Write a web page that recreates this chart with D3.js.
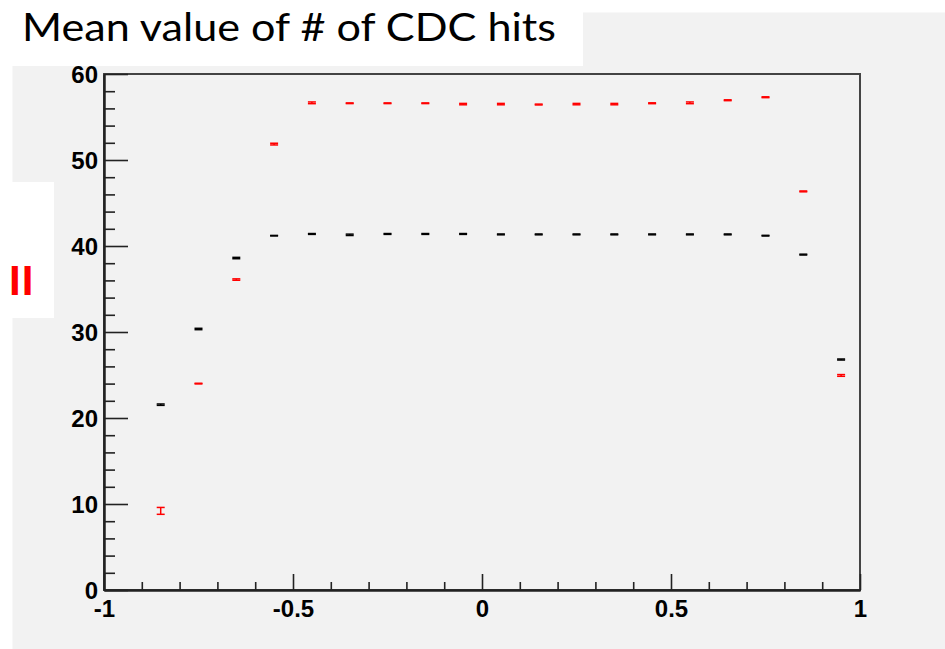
<!DOCTYPE html>
<html>
<head>
<meta charset="utf-8">
<script src="https://cdn.jsdelivr.net/npm/d3@7"></script>
<style>
  body { margin: 0; background: #fff; }
  svg { display: block; }
</style>
</head>
<body>
<svg id="chart" width="945" height="649"></svg>
<script>
// bin centres (cos theta), 0.1 wide bins; first bin (-0.95) is empty
const binCenters = [-0.85, -0.75, -0.65, -0.55, -0.45, -0.35, -0.25, -0.15, -0.05,
  0.05, 0.15, 0.25, 0.35, 0.45, 0.55, 0.65, 0.75, 0.85, 0.95];

// black series: mean hits and error
const blackMean = [21.55, 30.35, 38.6, 41.2, 41.4, 41.3, 41.4, 41.4, 41.4,
  41.35, 41.35, 41.35, 41.35, 41.35, 41.35, 41.35, 41.2, 39.0, 26.8];
const blackErr = [0.08, 0.08, 0.08, 0.03, 0.05, 0.08, 0.05, 0.05, 0.05,
  0.05, 0.05, 0.05, 0.05, 0.05, 0.05, 0.05, 0.04, 0.05, 0.06];

// red series
const redMean = [9.2, 24.0, 36.1, 51.85, 56.65, 56.6, 56.6, 56.6, 56.5,
  56.5, 56.45, 56.5, 56.5, 56.6, 56.65, 56.95, 57.3, 46.35, 24.95];
const redErr = [0.4, 0.04, 0.08, 0.1, 0.1, 0.04, 0.04, 0.04, 0.08,
  0.08, 0.05, 0.08, 0.08, 0.05, 0.1, 0.05, 0.05, 0.05, 0.1];

const xMajor = [-1, -0.5, 0, 0.5, 1];
const xMinor = [-0.9, -0.8, -0.7, -0.6, -0.4, -0.3, -0.2, -0.1, 0.1, 0.2, 0.3, 0.4, 0.6, 0.7, 0.8, 0.9];
const yMajor = [0, 10, 20, 30, 40, 50, 60];
const yMinor = [2, 4, 6, 8, 12, 14, 16, 18, 22, 24, 26, 28, 32, 34, 36, 38, 42, 44, 46, 48, 52, 54, 56, 58];

const svg = d3.select("#chart");

// page pieces: grey canvas, white title box, white side label box
svg.append("rect").attr("x", 12.5).attr("y", 12.5).attr("width", 945).attr("height", 649).attr("fill", "#f2f2f2");
svg.append("rect").attr("x", 0).attr("y", 0).attr("width", 583).attr("height", 66).attr("fill", "#fff");
svg.append("rect").attr("x", 0).attr("y", 182).attr("width", 54).attr("height", 136).attr("fill", "#fff");

svg.append("text")
  .attr("x", 22).attr("y", 41)
  .attr("font-family", "Lato, 'Open Sans', sans-serif")
  .attr("font-size", 39)
  .attr("textLength", 534)
  .attr("lengthAdjust", "spacingAndGlyphs")
  .attr("fill", "#000")
  .text("Mean value of # of CDC hits");

svg.append("text")
  .attr("x", 9).attr("y", 295)
  .attr("font-family", "'Liberation Sans', Arial, sans-serif")
  .attr("font-weight", "bold")
  .attr("font-size", 42)
  .attr("letter-spacing", 1)
  .attr("fill", "#ff0000")
  .text("II");

const x = d3.scaleLinear().domain([-1, 1]).range([104, 860]);
const y = d3.scaleLinear().domain([0, 60]).range([590, 74]);

// frame
svg.append("rect")
  .attr("x", x(-1)).attr("y", y(60))
  .attr("width", x(1) - x(-1)).attr("height", y(0) - y(60))
  .attr("fill", "none").attr("stroke", "#444").attr("stroke-width", 2);

const labelFont = "'Liberation Sans', Arial, Helvetica, sans-serif";
// ROOT style labels use a plain hyphen for the minus sign
const fmt = d => String(d);

// y axis, ticks pointing into the pad
const yAxis = svg.append("g").attr("transform", `translate(${x(-1)},0)`)
  .call(d3.axisLeft(y).tickValues(yMajor).tickSizeInner(-24).tickSizeOuter(0).tickFormat(fmt));
svg.append("g").attr("transform", `translate(${x(-1)},0)`)
  .call(d3.axisLeft(y).tickValues(yMinor).tickSizeInner(-11).tickSizeOuter(0).tickFormat(""));

const xAxis = svg.append("g").attr("transform", `translate(0,${y(0)})`)
  .call(d3.axisBottom(x).tickValues(xMajor).tickSizeInner(-16).tickSizeOuter(0).tickFormat(fmt));
svg.append("g").attr("transform", `translate(0,${y(0)})`)
  .call(d3.axisBottom(x).tickValues(xMinor).tickSizeInner(-8).tickSizeOuter(0).tickFormat(""));

svg.selectAll(".domain").attr("stroke", "#222").attr("stroke-width", 2);
svg.selectAll(".tick line").attr("stroke", "#222").attr("stroke-width", 1.6);
svg.selectAll(".tick text")
  .attr("font-family", labelFont)
  .attr("font-weight", "bold")
  .attr("font-size", 24)
  .attr("fill", "#000");
yAxis.selectAll(".tick text").attr("x", -6).attr("dy", "0.36em");
xAxis.selectAll(".tick text").attr("y", 9).attr("dy", "0.75em");

// points: error bar with end caps (caps merge into a dash when error is small)
function drawSeries(means, errs, color) {
  const g = svg.append("g").attr("stroke", color).attr("stroke-width", 1.5).attr("fill", "none");
  const pts = binCenters.map((c, i) => ({ c, m: means[i], e: errs[i] }));
  const cap = 4;
  const pt = g.selectAll("g").data(pts).join("g");
  pt.append("line")
    .attr("x1", d => x(d.c)).attr("x2", d => x(d.c))
    .attr("y1", d => y(d.m - d.e)).attr("y2", d => y(d.m + d.e));
  pt.append("line")
    .attr("x1", d => x(d.c) - cap).attr("x2", d => x(d.c) + cap)
    .attr("y1", d => y(d.m - d.e)).attr("y2", d => y(d.m - d.e));
  pt.append("line")
    .attr("x1", d => x(d.c) - cap).attr("x2", d => x(d.c) + cap)
    .attr("y1", d => y(d.m + d.e)).attr("y2", d => y(d.m + d.e));
}

drawSeries(blackMean, blackErr, "#000");
drawSeries(redMean, redErr, "#ff0000");
</script>
</body>
</html>
